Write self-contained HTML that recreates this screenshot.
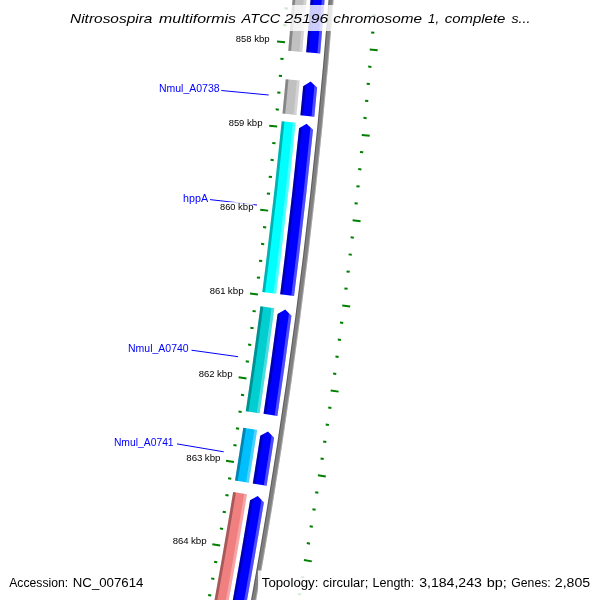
<!DOCTYPE html>
<html><head><meta charset="utf-8"><title>CGView map</title>
<style>html,body{margin:0;padding:0;background:#fff;width:600px;height:600px;overflow:hidden}svg{display:block;will-change:transform}text{white-space:pre}</style></head>
<body>
<svg width="600" height="600" viewBox="0 0 600 600" style="position:absolute;left:0;top:0">
<path d="M331.54,-39.55 A5997.50,5997.50 0 0 1 241.35,652.65 L246.27,653.58 A6002.50,6002.50 0 0 0 336.53,-39.19 Z" fill="#808080"/>
<path d="M331.54,-39.55 A5997.50,5997.50 0 0 1 241.35,652.65 L242.34,652.84 A5998.50,5998.50 0 0 0 332.54,-39.48 Z" fill="#000" fill-opacity="0.3"/>
<path d="M335.53,-39.27 A6001.50,6001.50 0 0 1 245.28,653.40 L246.27,653.58 A6002.50,6002.50 0 0 0 336.53,-39.19 Z" fill="#fff" fill-opacity="0.3"/>
<path d="M295.63,-42.12 A5961.50,5961.50 0 0 1 288.26,50.81 L302.21,52.02 A5975.50,5975.50 0 0 0 309.59,-41.12 Z" fill="#c0c0c0"/>
<path d="M295.63,-42.12 A5961.50,5961.50 0 0 1 288.26,50.81 L291.05,51.05 A5964.30,5964.30 0 0 0 298.42,-41.92 Z" fill="#000" fill-opacity="0.3"/>
<path d="M306.80,-41.32 A5972.70,5972.70 0 0 1 299.42,51.78 L302.21,52.02 A5975.50,5975.50 0 0 0 309.59,-41.12 Z" fill="#fff" fill-opacity="0.3"/>
<path d="M285.71,79.23 A5961.50,5961.50 0 0 1 282.46,113.53 L296.39,114.89 A5975.50,5975.50 0 0 0 299.66,80.51 Z" fill="#c0c0c0"/>
<path d="M285.71,79.23 A5961.50,5961.50 0 0 1 282.46,113.53 L285.24,113.80 A5964.30,5964.30 0 0 0 288.50,79.48 Z" fill="#000" fill-opacity="0.3"/>
<path d="M296.87,80.25 A5972.70,5972.70 0 0 1 293.60,114.62 L296.39,114.89 A5975.50,5975.50 0 0 0 299.66,80.51 Z" fill="#fff" fill-opacity="0.3"/>
<path d="M281.69,121.28 A5961.50,5961.50 0 0 1 262.28,291.96 L276.17,293.74 A5975.50,5975.50 0 0 0 295.63,122.66 Z" fill="#00ffff"/>
<path d="M281.69,121.28 A5961.50,5961.50 0 0 1 262.28,291.96 L265.06,292.32 A5964.30,5964.30 0 0 0 284.48,121.56 Z" fill="#000" fill-opacity="0.3"/>
<path d="M292.84,122.39 A5972.70,5972.70 0 0 1 273.39,293.39 L276.17,293.74 A5975.50,5975.50 0 0 0 295.63,122.66 Z" fill="#fff" fill-opacity="0.3"/>
<path d="M260.42,306.32 A5961.50,5961.50 0 0 1 245.75,411.21 L259.60,413.27 A5975.50,5975.50 0 0 0 274.30,308.13 Z" fill="#00ced1"/>
<path d="M260.42,306.32 A5961.50,5961.50 0 0 1 245.75,411.21 L248.52,411.62 A5964.30,5964.30 0 0 0 263.20,306.68 Z" fill="#000" fill-opacity="0.3"/>
<path d="M271.53,307.77 A5972.70,5972.70 0 0 1 256.83,412.86 L259.60,413.27 A5975.50,5975.50 0 0 0 274.30,308.13 Z" fill="#fff" fill-opacity="0.3"/>
<path d="M243.26,427.79 A5961.50,5961.50 0 0 1 235.00,480.57 L248.82,482.80 A5975.50,5975.50 0 0 0 257.10,429.89 Z" fill="#00bfff"/>
<path d="M243.26,427.79 A5961.50,5961.50 0 0 1 235.00,480.57 L237.77,481.02 A5964.30,5964.30 0 0 0 246.03,428.21 Z" fill="#000" fill-opacity="0.3"/>
<path d="M254.33,429.47 A5972.70,5972.70 0 0 1 246.06,482.35 L248.82,482.80 A5975.50,5975.50 0 0 0 257.10,429.89 Z" fill="#fff" fill-opacity="0.3"/>
<path d="M233.15,492.02 A5961.50,5961.50 0 0 1 205.99,645.93 L219.74,648.54 A5975.50,5975.50 0 0 0 246.97,494.27 Z" fill="#f08080"/>
<path d="M233.15,492.02 A5961.50,5961.50 0 0 1 205.99,645.93 L208.74,646.45 A5964.30,5964.30 0 0 0 235.91,492.47 Z" fill="#000" fill-opacity="0.3"/>
<path d="M244.20,493.82 A5972.70,5972.70 0 0 1 216.99,648.02 L219.74,648.54 A5975.50,5975.50 0 0 0 246.97,494.27 Z" fill="#fff" fill-opacity="0.3"/>
<path d="M313.58,-40.83 A5979.50,5979.50 0 0 1 306.19,52.37 L320.14,53.59 A5993.50,5993.50 0 0 0 327.55,-39.84 Z" fill="#0000ff"/>
<path d="M313.58,-40.83 A5979.50,5979.50 0 0 1 306.19,52.37 L308.98,52.61 A5982.30,5982.30 0 0 0 316.38,-40.63 Z" fill="#000" fill-opacity="0.3"/>
<path d="M324.76,-40.04 A5990.70,5990.70 0 0 1 317.35,53.34 L320.14,53.59 A5993.50,5993.50 0 0 0 327.55,-39.84 Z" fill="#fff" fill-opacity="0.3"/>
<path d="M310.61,81.52 L303.15,86.15 A5979.50,5979.50 0 0 1 300.37,115.28 L314.31,116.65 A5993.50,5993.50 0 0 0 317.09,87.44 Z" fill="#0000ff"/>
<path d="M303.15,86.15 A5979.50,5979.50 0 0 1 300.37,115.28 L303.16,115.56 A5982.30,5982.30 0 0 0 306.13,84.30 Z" fill="#000" fill-opacity="0.3"/>
<path d="M317.09,87.44 A5993.50,5993.50 0 0 1 314.31,116.65 L311.52,116.37 A5990.70,5990.70 0 0 0 314.50,85.07 Z" fill="#fff" fill-opacity="0.3"/>
<path d="M306.57,123.75 L299.08,128.33 A5979.50,5979.50 0 0 1 280.14,294.25 L294.02,296.03 A5993.50,5993.50 0 0 0 313.01,129.72 Z" fill="#0000ff"/>
<path d="M299.08,128.33 A5979.50,5979.50 0 0 1 280.14,294.25 L282.91,294.61 A5982.30,5982.30 0 0 0 302.08,126.50 Z" fill="#000" fill-opacity="0.3"/>
<path d="M313.01,129.72 A5993.50,5993.50 0 0 1 294.02,296.03 L291.24,295.68 A5990.70,5990.70 0 0 0 310.44,127.33 Z" fill="#fff" fill-opacity="0.3"/>
<path d="M285.21,309.56 L277.58,313.90 A5979.50,5979.50 0 0 1 263.55,413.86 L277.40,415.93 A5993.50,5993.50 0 0 0 291.46,315.73 Z" fill="#0000ff"/>
<path d="M277.58,313.90 A5979.50,5979.50 0 0 1 263.55,413.86 L266.32,414.28 A5982.30,5982.30 0 0 0 280.63,312.17 Z" fill="#000" fill-opacity="0.3"/>
<path d="M291.46,315.73 A5993.50,5993.50 0 0 1 277.40,415.93 L274.63,415.51 A5990.70,5990.70 0 0 0 288.96,313.26 Z" fill="#fff" fill-opacity="0.3"/>
<path d="M267.97,431.54 L260.26,435.72 A5979.50,5979.50 0 0 1 252.77,483.43 L266.60,485.66 A5993.50,5993.50 0 0 0 274.10,437.84 Z" fill="#0000ff"/>
<path d="M260.26,435.72 A5979.50,5979.50 0 0 1 252.77,483.43 L255.54,483.88 A5982.30,5982.30 0 0 0 263.34,434.05 Z" fill="#000" fill-opacity="0.3"/>
<path d="M274.10,437.84 A5993.50,5993.50 0 0 1 266.60,485.66 L263.83,485.21 A5990.70,5990.70 0 0 0 271.65,435.32 Z" fill="#fff" fill-opacity="0.3"/>
<path d="M257.82,496.04 L250.06,500.14 A5979.50,5979.50 0 0 1 223.67,649.29 L237.42,651.90 A5993.50,5993.50 0 0 0 263.87,502.41 Z" fill="#0000ff"/>
<path d="M250.06,500.14 A5979.50,5979.50 0 0 1 223.67,649.29 L226.42,649.81 A5982.30,5982.30 0 0 0 253.16,498.50 Z" fill="#000" fill-opacity="0.3"/>
<path d="M263.87,502.41 A5993.50,5993.50 0 0 1 237.42,651.90 L234.67,651.38 A5990.70,5990.70 0 0 0 261.45,499.86 Z" fill="#fff" fill-opacity="0.3"/>
<path d="M291.64,-42.40 L283.66,-42.97 M376.42,-36.34 L384.40,-35.77 M290.41,-25.52 L287.22,-25.76 M375.18,-19.23 L378.37,-18.99 M289.13,-8.65 L285.94,-8.90 M373.88,-2.11 L377.07,-1.87 M287.81,8.22 L284.62,7.96 M372.54,15.00 L375.73,15.25 M286.43,25.08 L283.24,24.82 M371.14,32.10 L374.33,32.37 M285.01,41.95 L277.04,41.26 M369.70,49.21 L377.67,49.89 M283.54,58.80 L280.35,58.52 M368.21,66.31 L371.40,66.59 M282.02,75.66 L278.84,75.37 M366.67,83.40 L369.86,83.69 M280.46,92.51 L277.27,92.21 M365.08,100.49 L368.27,100.79 M278.85,109.35 L275.66,109.04 M363.45,117.57 L366.63,117.88 M277.19,126.19 L269.23,125.39 M361.76,134.65 L369.72,135.45 M275.48,143.03 L272.29,142.70 M360.03,151.73 L363.21,152.06 M273.72,159.86 L270.54,159.52 M358.25,168.80 L361.43,169.14 M271.92,176.68 L268.73,176.34 M356.42,185.87 L359.60,186.21 M270.06,193.50 L266.88,193.15 M354.54,202.93 L357.72,203.28 M268.16,210.32 L260.22,209.41 M352.61,219.98 L360.56,220.89 M266.22,227.13 L263.04,226.75 M350.64,237.03 L353.82,237.40 M264.22,243.93 L261.04,243.55 M348.61,254.07 L351.79,254.45 M262.18,260.73 L259.00,260.34 M346.54,271.11 L349.72,271.50 M260.09,277.52 L256.91,277.12 M344.42,288.14 L347.59,288.54 M257.95,294.30 L250.01,293.28 M342.25,305.17 L350.19,306.19 M255.76,311.08 L252.59,310.67 M340.03,322.19 L343.21,322.60 M253.53,327.86 L250.36,327.43 M337.77,339.20 L340.94,339.63 M251.25,344.63 L248.08,344.19 M335.45,356.21 L338.62,356.64 M248.92,361.39 L245.75,360.94 M333.09,373.21 L336.26,373.65 M246.54,378.14 L238.62,377.01 M330.68,390.20 L338.60,391.33 M244.12,394.89 L240.95,394.42 M328.22,407.18 L331.39,407.65 M241.64,411.63 L238.48,411.16 M325.71,424.16 L328.88,424.64 M239.12,428.36 L235.96,427.88 M323.16,441.13 L326.32,441.62 M236.56,445.09 L233.40,444.60 M320.56,458.10 L323.72,458.59 M233.94,461.80 L226.04,460.56 M317.90,475.06 L325.81,476.30 M231.28,478.52 L228.12,478.01 M315.20,492.01 L318.36,492.51 M228.57,495.22 L225.41,494.70 M312.46,508.95 L315.61,509.46 M225.82,511.91 L222.66,511.39 M309.66,525.88 L312.82,526.41 M223.01,528.60 L219.86,528.07 M306.82,542.81 L309.97,543.34 M220.16,545.28 L212.28,543.92 M303.92,559.72 L311.81,561.08 M217.26,561.95 L214.11,561.40 M300.98,576.63 L304.14,577.19 M214.31,578.62 L211.16,578.06 M298.00,593.54 L301.15,594.10 M211.32,595.27 L208.17,594.70 M294.96,610.43 L298.11,611.00 M208.28,611.92 L205.13,611.34 M291.87,627.31 L295.02,627.89 M205.19,628.56 L197.33,627.08 M288.74,644.19 L296.61,645.66 M202.06,645.18 L198.91,644.59 M285.56,661.05 L288.71,661.65" stroke="#008000" stroke-width="2" fill="none" transform="translate(0,0.3)"/>
<line x1="221.3" y1="90.5" x2="268.7" y2="95.0" stroke="#0000ff" stroke-width="1"/>
<line x1="210" y1="199.6" x2="257" y2="205" stroke="#0000ff" stroke-width="1"/>
<line x1="191.5" y1="350.2" x2="238.1" y2="356.7" stroke="#0000ff" stroke-width="1"/>
<line x1="177.0" y1="443.9" x2="223.7" y2="451.8" stroke="#0000ff" stroke-width="1"/>
<rect x="235.9" y="34.1" width="33.9" height="10.1" fill="#fff" fill-opacity="0.8"/>
<text x="235.78" y="42.40" font-family="Liberation Sans, sans-serif" font-size="8.6" fill="#000" textLength="15.67" lengthAdjust="spacingAndGlyphs">858</text>
<text x="254.20" y="42.40" font-family="Liberation Sans, sans-serif" font-size="8.6" fill="#000" textLength="15.50" lengthAdjust="spacingAndGlyphs">kbp</text>
<rect x="228.8" y="118.0" width="33.7" height="10.1" fill="#fff" fill-opacity="0.8"/>
<text x="228.68" y="126.30" font-family="Liberation Sans, sans-serif" font-size="8.6" fill="#000" textLength="15.65" lengthAdjust="spacingAndGlyphs">859</text>
<text x="246.99" y="126.30" font-family="Liberation Sans, sans-serif" font-size="8.6" fill="#000" textLength="15.51" lengthAdjust="spacingAndGlyphs">kbp</text>
<rect x="220.0" y="201.9" width="33.5" height="10.1" fill="#fff" fill-opacity="0.8"/>
<text x="220.01" y="210.20" font-family="Liberation Sans, sans-serif" font-size="8.6" fill="#000" textLength="15.44" lengthAdjust="spacingAndGlyphs">860</text>
<text x="238.05" y="210.20" font-family="Liberation Sans, sans-serif" font-size="8.6" fill="#000" textLength="15.47" lengthAdjust="spacingAndGlyphs">kbp</text>
<rect x="209.8" y="285.9" width="33.8" height="10.1" fill="#fff" fill-opacity="0.8"/>
<text x="209.69" y="294.20" font-family="Liberation Sans, sans-serif" font-size="8.6" fill="#000" textLength="15.76" lengthAdjust="spacingAndGlyphs">861</text>
<text x="227.86" y="294.20" font-family="Liberation Sans, sans-serif" font-size="8.6" fill="#000" textLength="15.79" lengthAdjust="spacingAndGlyphs">kbp</text>
<rect x="198.8" y="369.0" width="33.7" height="10.1" fill="#fff" fill-opacity="0.8"/>
<text x="198.67" y="377.30" font-family="Liberation Sans, sans-serif" font-size="8.6" fill="#000" textLength="15.81" lengthAdjust="spacingAndGlyphs">862</text>
<text x="216.99" y="377.30" font-family="Liberation Sans, sans-serif" font-size="8.6" fill="#000" textLength="15.51" lengthAdjust="spacingAndGlyphs">kbp</text>
<rect x="186.6" y="452.5" width="34.1" height="10.1" fill="#fff" fill-opacity="0.8"/>
<text x="186.31" y="460.80" font-family="Liberation Sans, sans-serif" font-size="8.6" fill="#000" textLength="16.20" lengthAdjust="spacingAndGlyphs">863</text>
<text x="204.85" y="460.80" font-family="Liberation Sans, sans-serif" font-size="8.6" fill="#000" textLength="15.69" lengthAdjust="spacingAndGlyphs">kbp</text>
<rect x="172.8" y="535.9" width="33.9" height="10.1" fill="#fff" fill-opacity="0.8"/>
<text x="172.68" y="544.20" font-family="Liberation Sans, sans-serif" font-size="8.6" fill="#000" textLength="15.89" lengthAdjust="spacingAndGlyphs">864</text>
<text x="190.95" y="544.20" font-family="Liberation Sans, sans-serif" font-size="8.6" fill="#000" textLength="15.78" lengthAdjust="spacingAndGlyphs">kbp</text>
<text x="158.93" y="91.90" font-family="Liberation Sans, sans-serif" font-size="10" fill="#0000ff" textLength="60.63" lengthAdjust="spacingAndGlyphs">Nmul_A0738</text>
<text x="182.99" y="202.20" font-family="Liberation Sans, sans-serif" font-size="10" fill="#0000ff" textLength="25.06" lengthAdjust="spacingAndGlyphs">hppA</text>
<text x="127.99" y="352.00" font-family="Liberation Sans, sans-serif" font-size="10" fill="#0000ff" textLength="60.66" lengthAdjust="spacingAndGlyphs">Nmul_A0740</text>
<text x="113.91" y="445.80" font-family="Liberation Sans, sans-serif" font-size="10" fill="#0000ff" textLength="59.71" lengthAdjust="spacingAndGlyphs">Nmul_A0741</text>
<rect x="64" y="5" width="471" height="26" fill="#fff" fill-opacity="0.8"/>
<text x="70.03" y="23.10" font-family="Liberation Sans, sans-serif" font-size="13" font-style="italic" fill="#000" textLength="82.42" lengthAdjust="spacingAndGlyphs">Nitrosospira</text>
<text x="159.12" y="23.10" font-family="Liberation Sans, sans-serif" font-size="13" font-style="italic" fill="#000" textLength="76.99" lengthAdjust="spacingAndGlyphs">multiformis</text>
<text x="241.62" y="23.10" font-family="Liberation Sans, sans-serif" font-size="13" font-style="italic" fill="#000" textLength="38.59" lengthAdjust="spacingAndGlyphs">ATCC</text>
<text x="284.54" y="23.10" font-family="Liberation Sans, sans-serif" font-size="13" font-style="italic" fill="#000" textLength="43.73" lengthAdjust="spacingAndGlyphs">25196</text>
<text x="333.39" y="23.10" font-family="Liberation Sans, sans-serif" font-size="13" font-style="italic" fill="#000" textLength="88.68" lengthAdjust="spacingAndGlyphs">chromosome</text>
<text x="428.11" y="23.10" font-family="Liberation Sans, sans-serif" font-size="13" font-style="italic" fill="#000" textLength="10.93" lengthAdjust="spacingAndGlyphs">1,</text>
<text x="444.79" y="23.10" font-family="Liberation Sans, sans-serif" font-size="13" font-style="italic" fill="#000" textLength="60.59" lengthAdjust="spacingAndGlyphs">complete</text>
<text x="511.42" y="23.10" font-family="Liberation Sans, sans-serif" font-size="13" font-style="italic" fill="#000" textLength="18.95" lengthAdjust="spacingAndGlyphs">s...</text>
<rect x="5" y="570" width="143" height="25" fill="#fff" fill-opacity="0.85"/>
<text x="9.21" y="586.50" font-family="Liberation Sans, sans-serif" font-size="12" fill="#000" textLength="58.96" lengthAdjust="spacingAndGlyphs">Accession:</text>
<text x="72.80" y="586.50" font-family="Liberation Sans, sans-serif" font-size="12" fill="#000" textLength="70.62" lengthAdjust="spacingAndGlyphs">NC_007614</text>
<rect x="258" y="570.5" width="338" height="30" fill="#fff" fill-opacity="0.85"/>
<text x="261.82" y="586.50" font-family="Liberation Sans, sans-serif" font-size="12" fill="#000" textLength="56.57" lengthAdjust="spacingAndGlyphs">Topology:</text>
<text x="322.78" y="586.50" font-family="Liberation Sans, sans-serif" font-size="12" fill="#000" textLength="45.53" lengthAdjust="spacingAndGlyphs">circular;</text>
<text x="372.48" y="586.50" font-family="Liberation Sans, sans-serif" font-size="12" fill="#000" textLength="41.86" lengthAdjust="spacingAndGlyphs">Length:</text>
<text x="419.16" y="586.50" font-family="Liberation Sans, sans-serif" font-size="12" fill="#000" textLength="62.65" lengthAdjust="spacingAndGlyphs">3,184,243</text>
<text x="486.77" y="586.50" font-family="Liberation Sans, sans-serif" font-size="12" fill="#000" textLength="20.06" lengthAdjust="spacingAndGlyphs">bp;</text>
<text x="511.34" y="586.50" font-family="Liberation Sans, sans-serif" font-size="12" fill="#000" textLength="39.38" lengthAdjust="spacingAndGlyphs">Genes:</text>
<text x="554.84" y="586.50" font-family="Liberation Sans, sans-serif" font-size="12" fill="#000" textLength="35.36" lengthAdjust="spacingAndGlyphs">2,805</text>
</svg>
</body></html>
